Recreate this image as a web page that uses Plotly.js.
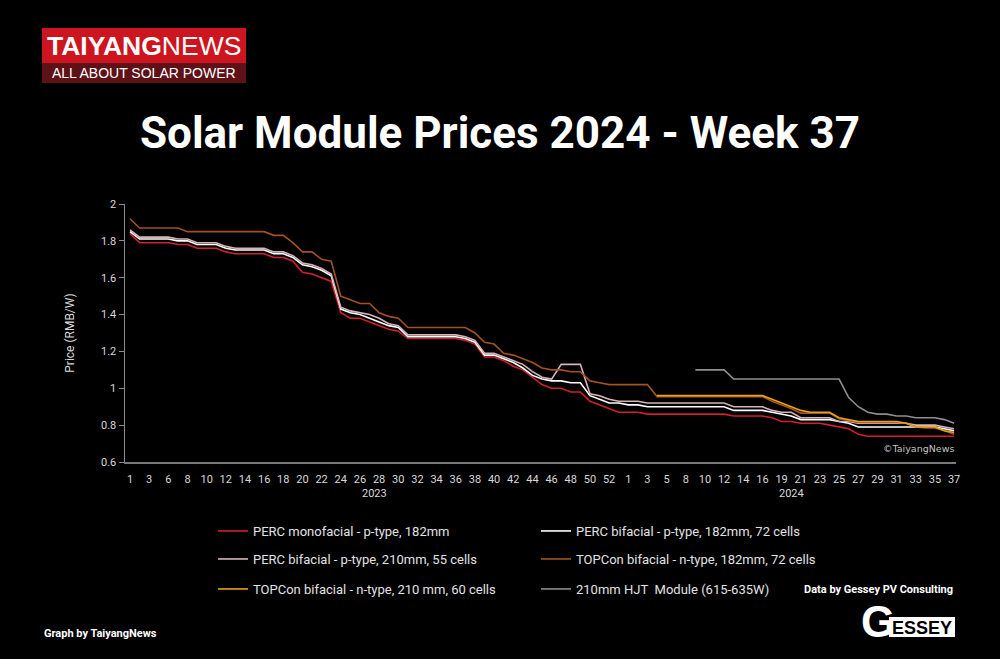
<!DOCTYPE html>
<html>
<head>
<meta charset="utf-8">
<script src="https://cdn.plot.ly/plotly-3.0.1.min.js"></script>
<style>
html,body{margin:0;padding:0;background:#000;}
#chart{width:1000px;height:659px;}
</style>
</head>
<body>
<div id="chart"></div>
<script>
// ---- Data (RMB/W), one value per weekly category, 2023 wk1 .. 2024 wk37 ----
const tickLabels = ["1","3","6","8","10","12","14","16","18","20","22","24","26","28","30","32","34","36","38","40","42","44","46","48","50","52",
                    "1","3","5","8","10","12","14","16","19","21","23","25","27","29","31","33","35","37"];
const yearNames = ["2023","2024"];
const yearCategoryCounts = [52, 35];

const percMono182 = [1.84,1.79,1.79,1.79,1.79,1.78,1.78,1.76,1.76,1.76,
  1.74,1.73,1.73,1.73,1.73,1.71,1.71,1.69,1.63,1.62,
  1.60,1.58,1.41,1.38,1.38,1.36,1.34,1.32,1.31,1.27,
  1.27,1.27,1.27,1.27,1.27,1.26,1.24,1.17,1.17,1.15,
  1.12,1.10,1.06,1.02,1.00,1.00,0.98,0.98,0.93,0.91,
  0.89,0.87,0.87,0.87,0.86,0.86,0.86,0.86,0.86,0.86,
  0.86,0.86,0.86,0.85,0.85,0.85,0.85,0.84,0.82,0.82,
  0.81,0.81,0.81,0.80,0.79,0.78,0.75,0.74,0.74,0.74,
  0.74,0.74,0.74,0.74,0.74,0.74,0.74];

const percBi182 = [1.85,1.81,1.81,1.81,1.81,1.80,1.80,1.78,1.78,1.78,
  1.76,1.75,1.75,1.75,1.75,1.73,1.73,1.71,1.67,1.66,
  1.64,1.61,1.43,1.41,1.40,1.38,1.36,1.34,1.33,1.28,
  1.28,1.28,1.28,1.28,1.28,1.27,1.25,1.18,1.18,1.16,
  1.14,1.11,1.07,1.05,1.04,1.04,1.03,1.03,0.96,0.94,
  0.92,0.92,0.91,0.91,0.90,0.90,0.90,0.90,0.90,0.90,
  0.90,0.90,0.90,0.88,0.88,0.88,0.88,0.87,0.86,0.85,
  0.83,0.83,0.83,0.83,0.82,0.81,0.79,0.79,0.79,0.79,
  0.79,0.79,0.79,0.79,0.79,0.78,0.77];

const percBi210 = [1.86,1.82,1.82,1.82,1.82,1.81,1.81,1.79,1.79,1.79,
  1.77,1.76,1.76,1.76,1.76,1.74,1.74,1.72,1.68,1.67,
  1.65,1.62,1.44,1.42,1.41,1.40,1.38,1.35,1.34,1.29,
  1.29,1.29,1.29,1.29,1.29,1.28,1.26,1.19,1.19,1.17,
  1.15,1.13,1.09,1.06,1.05,1.13,1.13,1.13,0.97,0.96,
  0.94,0.93,0.93,0.93,0.92,0.92,0.92,0.92,0.92,0.92,
  0.92,0.92,0.92,0.90,0.90,0.90,0.90,0.88,0.87,0.87,
  0.84,0.84,0.84,0.84,0.82,0.82,0.81,0.81,0.81,0.81,
  0.81,0.81,0.80,0.80,0.80,0.79,0.78];

const topcon182 = [1.92,1.87,1.87,1.87,1.87,1.87,1.85,1.85,1.85,1.85,
  1.85,1.85,1.85,1.85,1.85,1.83,1.83,1.79,1.74,1.74,
  1.70,1.69,1.50,1.48,1.46,1.46,1.41,1.39,1.38,1.33,
  1.33,1.33,1.33,1.33,1.33,1.33,1.30,1.25,1.24,1.19,
  1.18,1.16,1.14,1.11,1.10,1.10,1.09,1.09,1.04,1.03,
  1.02,1.02,1.02,1.02,1.02,0.955,0.955,0.955,0.955,0.955,
  0.955,0.955,0.955,0.955,0.955,0.955,0.955,0.93,0.91,0.89,
  0.865,0.865,0.865,0.865,0.835,0.825,0.815,0.815,0.815,0.815,
  0.815,0.81,0.79,0.785,0.785,0.77,0.75];

const topcon210 = [null,null,null,null,null,null,null,null,null,null,
  null,null,null,null,null,null,null,null,null,null,
  null,null,null,null,null,null,null,null,null,null,
  null,null,null,null,null,null,null,null,null,null,
  null,null,null,null,null,null,null,null,null,null,
  null,null,null,null,null,0.96,0.96,0.96,0.96,0.96,
  0.96,0.96,0.96,0.96,0.96,0.96,0.96,0.94,0.92,0.90,
  0.88,0.87,0.87,0.87,0.84,0.83,0.82,0.82,0.82,0.82,
  0.82,0.81,0.79,0.79,0.79,0.77,0.76];

const hjt210 = [null,null,null,null,null,null,null,null,null,null,
  null,null,null,null,null,null,null,null,null,null,
  null,null,null,null,null,null,null,null,null,null,
  null,null,null,null,null,null,null,null,null,null,
  null,null,null,null,null,null,null,null,null,null,
  null,null,null,null,null,null,null,null,null,1.10,
  1.10,1.10,1.10,1.05,1.05,1.05,1.05,1.05,1.05,1.05,
  1.05,1.05,1.05,1.05,1.05,0.95,0.90,0.87,0.86,0.86,
  0.85,0.85,0.84,0.84,0.84,0.83,0.81];

const seriesNames = [
  "PERC monofacial - p-type, 182mm",
  "PERC bifacial - p-type, 182mm, 72 cells",
  "PERC bifacial - p-type, 210mm, 55 cells",
  "TOPCon bifacial - n-type, 182mm, 72 cells",
  "TOPCon bifacial - n-type, 210 mm, 60 cells",
  "210mm HJT\u00a0 Module (615-635W)"
];
const seriesValues = [percMono182, percBi182, percBi210, topcon182, topcon210, hjt210];
const seriesColors = ["#d11f2d", "#ffffff", "#d6b3b9", "#a4521f", "#e8a312", "#8e8e8e"];
const seriesLegends = ["legend", "legend", "legend2", "legend2", "legend3", "legend3"];

// ---- Geometry helpers (page pixels -> paper coords) ----
const L = 125, T = 204, W = 831, H = 258;
const px = x => (x - L) / W;
const py = y => (T + H - y) / H;

const traces = seriesValues.map((vals, k) => ({
  type: "scatter",
  mode: "lines",
  name: seriesNames[k],
  x: vals.map((_, i) => i),
  y: vals,
  line: {color: seriesColors[k], width: 1.6},
  legend: seriesLegends[k],
  hoverinfo: "skip"
}));

const tickVals = tickLabels.map((_, j) => 2 * j);

// year group annotations
const yearAnn = [];
let start = 0;
yearNames.forEach((yn, k) => {
  const c = yearCategoryCounts[k];
  yearAnn.push({
    text: yn, xref: "x", yref: "paper", x: start + (c - 1) / 2, y: py(493),
    showarrow: false, xanchor: "center", yanchor: "middle",
    font: {family: "Roboto", size: 11, color: "#d8d8d8"}
  });
  start += c;
});

const legendBase = {
  orientation: "h", xanchor: "left", yanchor: "middle",
  x: px(213), entrywidth: 278, entrywidthmode: "pixels",
  bgcolor: "rgba(0,0,0,0)", borderwidth: 0,
  font: {family: "Roboto", size: 13, color: "#e2e2e2"},
  traceorder: "normal"
};

const layout = {
  width: 1000, height: 659,
  paper_bgcolor: "#000", plot_bgcolor: "#000",
  margin: {l: L, r: 1000 - L - W, t: T, b: 659 - T - H, pad: 0},
  showlegend: true,
  title: {
    text: "Solar Module Prices 2024 - Week 37",
    font: {family: "Roboto", size: 44, color: "#ffffff", weight: 700},
    xref: "container", x: 0.5, xanchor: "center",
    yref: "container", y: 1 - 133 / 659, yanchor: "middle"
  },
  xaxis: {
    range: [-0.52, 86.2],
    tickmode: "array", tickvals: tickVals, ticktext: tickLabels,
    ticks: "", showgrid: false, zeroline: false,
    showline: true, linecolor: "#7a7a7a", linewidth: 2,
    tickfont: {family: "Roboto", size: 11, color: "#d8d8d8"},
    ticklabelstandoff: 6, tickangle: 0, fixedrange: true
  },
  yaxis: {
    range: [0.6, 2], dtick: 0.2, tick0: 0.6,
    ticks: "outside", ticklen: 5, tickcolor: "#8a8a8a", tickwidth: 1,
    showgrid: false, zeroline: false,
    showline: true, linecolor: "#8a8a8a", linewidth: 1.5,
    tickfont: {family: "Roboto", size: 11, color: "#d8d8d8"},
    title: {text: "Price (RMB/W)", font: {family: "Roboto", size: 12, color: "#d8d8d8"}, standoff: 24},
    fixedrange: true
  },
  legend: Object.assign({}, legendBase, {y: py(531)}),
  legend2: Object.assign({}, legendBase, {y: py(559)}),
  legend3: Object.assign({}, legendBase, {y: py(589)}),
  shapes: [
    {type: "rect", xref: "paper", yref: "paper", x0: px(42), x1: px(246), y0: py(28), y1: py(63),
     fillcolor: "#cc151e", line: {width: 0}, layer: "above"},
    {type: "rect", xref: "paper", yref: "paper", x0: px(42), x1: px(246), y0: py(63), y1: py(83),
     fillcolor: "#5e1117", line: {width: 0}, layer: "above"},
    {type: "rect", xref: "paper", yref: "paper", x0: px(889), x1: px(955), y0: py(617), y1: py(637),
     fillcolor: "#ffffff", line: {width: 0}, layer: "above"}
  ],
  annotations: yearAnn.concat([
    {text: "<b>TAIYANG</b>NEWS", xref: "paper", yref: "paper", x: px(45), y: py(45.5),
     xanchor: "left", yanchor: "middle", showarrow: false,
     font: {family: "Liberation Sans", size: 26.5, color: "#ffffff"}},
    {text: "ALL ABOUT SOLAR POWER", xref: "paper", yref: "paper", x: px(144), y: py(73),
     xanchor: "center", yanchor: "middle", showarrow: false,
     font: {family: "Liberation Sans", size: 14, color: "#ffffff"}},
    {text: "©TaiyangNews", xref: "paper", yref: "paper", x: px(956), y: py(448),
     xanchor: "right", yanchor: "middle", showarrow: false,
     font: {family: "DejaVu Sans", size: 9.5, color: "#c4c4c4"}},
    {text: "<b>Data by Gessey PV Consulting</b>", xref: "paper", yref: "paper", x: px(955), y: py(589),
     xanchor: "right", yanchor: "middle", showarrow: false,
     font: {family: "Roboto", size: 11, color: "#ffffff"}},
    {text: "<b>Graph by TaiyangNews</b>", xref: "paper", yref: "paper", x: px(42), y: py(633),
     xanchor: "left", yanchor: "middle", showarrow: false,
     font: {family: "Roboto", size: 11, color: "#ffffff"}},
    {text: "<b>ESSEY</b>", xref: "paper", yref: "paper", x: px(922), y: py(627.5),
     xanchor: "center", yanchor: "middle", showarrow: false,
     font: {family: "Liberation Sans", size: 18, color: "#000000"}},
    {text: "<b>G</b>", xref: "paper", yref: "paper", x: px(878), y: py(621),
     xanchor: "center", yanchor: "middle", showarrow: false,
     font: {family: "Liberation Sans", size: 44, color: "#ffffff"}}
  ])
};

Plotly.newPlot("chart", traces, layout, {displayModeBar: false, staticPlot: true});
</script>
</body>
</html>
